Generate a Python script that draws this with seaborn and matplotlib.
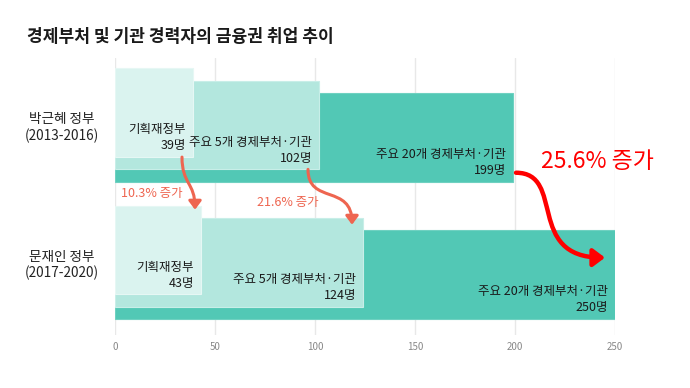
import numpy as np
import pandas as pd
import seaborn as sns
import matplotlib.pyplot as plt
from matplotlib.path import Path
from matplotlib.patches import FancyArrowPatch

# data
governments = ["박근혜 정부\n(2013-2016)", "문재인 정부\n(2017-2020)"]
layer_names = ["주요 20개 경제부처·기관", "주요 5개 경제부처·기관", "기획재정부"]
top20 = [199, 250]
top5 = [102, 124]
mofe = [39, 43]
growth_labels = ["25.6% 증가", "21.6% 증가", "10.3% 증가"]

layer_values = [top20, top5, mofe]
layer_colors = ["#52c8b5", "#b3e7de", "#daf3ef"]
edge_colors = ["#6fd1c1", "#c8eee8", "#e6f7f4"]

sns.set_theme(style="whitegrid")
plt.rcParams["font.family"] = ["Noto Sans CJK KR", "DejaVu Sans"]

fig = plt.figure(figsize=(6.9, 3.88), dpi=100)
ax = fig.add_axes([115 / 690, 1 - 335 / 388, 500 / 690, 277 / 388])

bar_h = 0.647
step = 0.0895
group_pos = np.arange(len(governments), dtype=float)

# dark bar first, lighter ones stacked upward on top
for i, (vals, col, ec) in enumerate(zip(layer_values, layer_colors, edge_colors)):
    pos = group_pos - i * step
    df = pd.DataFrame({"value": vals, "pos": pos})
    sns.barplot(data=df, x="value", y="pos", orient="y", native_scale=True,
                width=bar_h, color=col, saturation=1, edgecolor=ec, linewidth=0.8,
                ax=ax, zorder=2 + i)

ax.set_xlim(0, 250)
ax.set_ylim(1.44, -0.577)
ax.set_xticks(np.arange(0, 251, 50))
ax.tick_params(axis="x", labelsize=7, colors="#888888", length=0, pad=5)
ax.set_yticks(group_pos - step)
ax.set_yticklabels(governments, fontsize=9.8, color="#222222", multialignment="center")
ax.tick_params(axis="y", length=0, pad=11.5)
ax.xaxis.grid(True, color="#e8e8e8", linewidth=1)
ax.yaxis.grid(False)
ax.set_axisbelow(True)
for s in ax.spines.values():
    s.set_visible(False)
ax.set_xlabel("")
ax.set_ylabel("")


def bottom(g, i):
    return group_pos[g] - i * step + bar_h / 2


def top(g, i):
    return group_pos[g] - i * step - bar_h / 2


# labels inside bars
for i, (vals, name) in enumerate(zip(layer_values, layer_names)):
    for g, v in enumerate(vals):
        ax.text(v - 3.5, bottom(g, i) - 0.035, f"{name}\n{v}명", ha="right", va="bottom",
                fontsize=9, color="#1a1a1a", linespacing=1.3, zorder=10)


def curve(p0, p1, p2, p3, color, lw, head):
    path = Path([p0, p1, p2, p3], [Path.MOVETO, Path.CURVE4, Path.CURVE4, Path.CURVE4])
    arr = FancyArrowPatch(path=path, arrowstyle=f"-|>,head_length={head},head_width={head * 0.75}",
                          color=color, lw=lw, zorder=12, clip_on=False)
    ax.add_patch(arr)


coral = "#ee6550"
# 기획재정부
x0, x1 = mofe[0] - 5.5, mofe[1] - 3
y0, y1 = bottom(0, 2), top(1, 2) + 0.03
curve((x0, y0), (x0, y0 + 0.2), (x1, y1 - 0.2), (x1, y1), coral, 2.2, 5)
# 주요 5개
x0, x1 = top5[0] - 5.5, top5[1] - 5.5
y0, y1 = bottom(0, 1), top(1, 1) + 0.05
curve((x0, y0), (x0, y0 + 0.26), (x1, y1 - 0.3), (x1, y1), coral, 2.2, 5)
# 주요 20개
x0, x1 = top20[0] + 1.5, top20[1] - 5
y0, y1 = bottom(0, 0) - 0.065, top(1, 0) + 0.2
curve((x0, y0), (x0 + 25, y0), (x1 - 40, y1), (x1, y1), "#ff0000", 3.2, 7)

ax.text(3, (bottom(0, 0) + top(1, 2)) / 2, growth_labels[2], ha="left", va="center",
        fontsize=9, color=coral, zorder=12)
ax.text(71, top(1, 1) - 0.11, growth_labels[1], ha="left", va="center",
        fontsize=9, color=coral, zorder=12)
ax.text(213, 0.179, growth_labels[0], ha="left", va="center",
        fontsize=16.5, color="#ff0000", zorder=12, clip_on=False)

fig.text(27 / 690, 1 - 37 / 388, "경제부처 및 기관 경력자의 금융권 취업 추이", ha="left", va="center",
         fontsize=12.3, fontweight="bold", color="#1a1a1a")

fig.savefig("out.png", dpi=100, facecolor="white")
